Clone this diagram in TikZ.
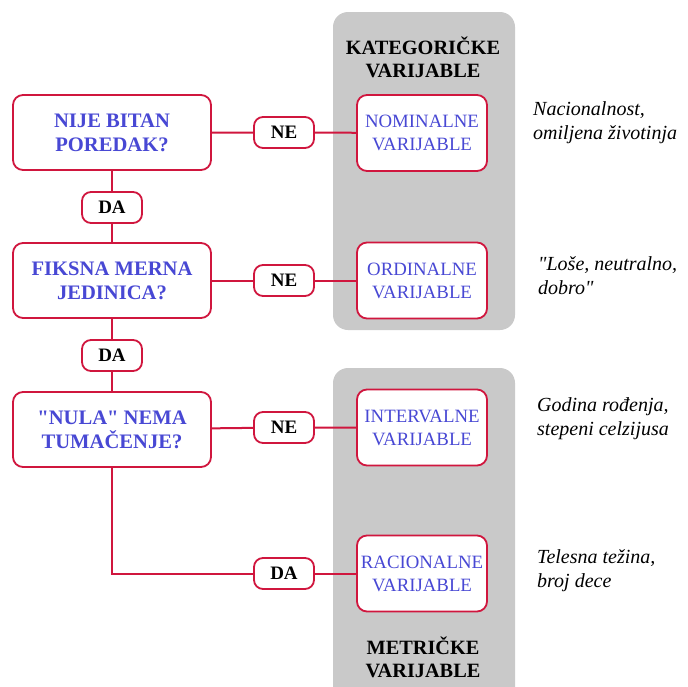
\documentclass[tikz,border=0pt]{standalone}
\usepackage{fontspec}
\setmainfont{Liberation Serif}[Ligatures=TeXOff]
\definecolor{rub}{RGB}{208,22,62}
\definecolor{plava}{RGB}{72,72,212}
\definecolor{siva}{RGB}{201,201,201}
\tikzset{
	okvir/.style={draw=rub, line width=1.8pt, rounded corners=10pt, fill=white,
		inner sep=0pt, align=center},
	pitanje/.style={okvir, minimum width=198pt, minimum height=75pt,
		text=plava, font=\fontsize{20.6}{24}\selectfont\bfseries},
	odgovor/.style={okvir, rounded corners=9pt, minimum width=60pt, minimum height=31pt,
		font=\fontsize{19}{22}\selectfont\bfseries},
	vrsta/.style={okvir, minimum width=130pt, minimum height=76pt,
		text=plava, font=\fontsize{18.8}{23}\selectfont},
	primer/.style={anchor=west, align=left, inner sep=0pt,
		font=\fontsize{20}{24}\selectfont\itshape},
	naslov/.style={align=center, inner sep=0pt,
		font=\fontsize{20.3}{23}\selectfont\bfseries},
	veza/.style={draw=rub, line width=2pt}
}
\begin{document}
\begin{tikzpicture}[x=1pt, y=-1pt]
	\useasboundingbox (0,0) rectangle (688,686);
	% sive oblasti
	\fill[siva, rounded corners=15pt] (333,12) rectangle (515,330);
	\fill[siva, rounded corners=15pt] (333,368) rectangle (515,720);
	\node[naslov] (kat) at (423,57) {KATEGORIČKE\\VARIJABLE};
	\node[naslov] (met) at (423,657) {METRIČKE\\VARIJABLE};
	% pitanja
	\node[pitanje] (p1) at (112,132.5) {NIJE BITAN\\POREDAK?};
	\node[pitanje] (p2) at (112,280.5) {FIKSNA MERNA\\JEDINICA?};
	\node[pitanje] (p3) at (112,429.5) {"NULA" NEMA\\TUMAČENJE?};
	% odgovori
	\node[odgovor] (ne1) at (284,132.5) {NE};
	\node[odgovor] (ne2) at (284,280.5) {NE};
	\node[odgovor] (ne3) at (284,427.5) {NE};
	\node[odgovor] (da1) at (112,207.5) {DA};
	\node[odgovor] (da2) at (112,355.5) {DA};
	\node[odgovor] (da3) at (284,573.5) {DA};
	% vrste varijabli
	\node[vrsta] (nom) at (422,133) {NOMINALNE\\VARIJABLE};
	\node[vrsta] (ord) at (422,280.5) {ORDINALNE\\VARIJABLE};
	\node[vrsta] (int) at (422,427.5) {INTERVALNE\\VARIJABLE};
	\node[vrsta] (rac) at (422,573.5) {RACIONALNE\\VARIJABLE};
	% primeri
	\node[primer] (pr1) at (533,123) {Nacionalnost,\\omiljena životinja};
	\node[primer] (pr2) at (538,276) {"Loše, neutralno,\\dobro"};
	\node[primer] (pr3) at (537,419) {Godina rođenja,\\stepeni celzijusa};
	\node[primer] (pr4) at (537,571) {Telesna težina,\\broj dece};
	% veze
	\draw[veza] (p1) -- (ne1) -- (nom);
	\draw[veza] (p2) -- (ne2) -- (ord);
	\draw[veza] (p3) -- (ne3) -- (int);
	\draw[veza] (p1) -- (da1) -- (p2);
	\draw[veza] (p2) -- (da2) -- (p3);
	\draw[veza] (p3) |- (da3) -- (rac);
\end{tikzpicture}
\end{document}
